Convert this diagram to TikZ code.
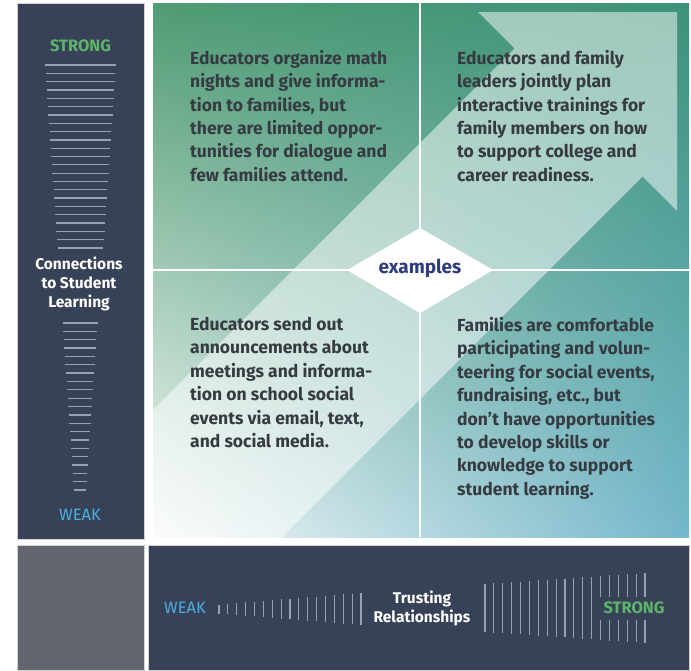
\documentclass[tikz,border=0pt]{standalone}
\usepackage{fontspec}
\usetikzlibrary{shadings}
\setmainfont{Fira Sans}
\definecolor{navy}{HTML}{374259}
\definecolor{slate}{HTML}{60656E}
\definecolor{barline}{HTML}{9A9FB3}
\definecolor{strongc}{HTML}{5DB56A}
\definecolor{weakc}{HTML}{4BAEDC}
\definecolor{exblue}{HTML}{2F3B80}
\definecolor{textgray}{HTML}{363B42}
\definecolor{greenTL}{HTML}{4F9B74}
\definecolor{greenTR}{HTML}{3D9279}
\definecolor{paleBL}{HTML}{F6F9F7}
\definecolor{blueBR}{HTML}{74B7CB}
\tikzset{
  panel/.style={draw=black!18, line width=0.8pt},
  quad/.style={anchor=north west, align=left, inner sep=0pt, text=textgray,
    font=\fontsize{17.5}{23.4}\selectfont\bfseries},
  tag/.style={inner sep=0pt, font=\fontsize{16.5}{19}\selectfont},
  head/.style={inner sep=0pt, align=center, text=white,
    font=\fontsize{15.5}{19}\selectfont\bfseries},
  bar/.style={barline, line width=1.3pt}
}
\begin{document}
\begin{tikzpicture}[x=1pt,y=-1pt]
\useasboundingbox (0,0) rectangle (691,670);
\def\mainarea{(153,3) rectangle (689,537)}

% panels
\fill[navy] (17,3) rectangle (144,539);
\draw[panel] (17,3) rectangle (144,539);
\shade[upper left=greenTL, upper right=greenTR, lower left=paleBL, lower right=blueBR] \mainarea;
\fill[slate] (17,545) rectangle (144,670);
\draw[panel] (17,545) rectangle (144,670);
\fill[navy] (148,545) rectangle (689,670);
\draw[panel] (148,545) rectangle (689,670);

% big arrow
\begin{scope}
\clip \mainarea;
\fill[white, fill opacity=0.5] (81.5,481.5) -- (514.5,48.5) -- (478,12) -- (677,12)
  -- (677,211) -- (642.5,176.5) -- (209.5,609.5) -- cycle;
\end{scope}

% quadrant lines and diamond
\draw[white, line width=1.5pt] (420,3) -- (420,537);
\draw[white, line width=1.5pt] (153,270) -- (689,270);
\fill[white] (347,270) -- (420,228) -- (493,270) -- (420,313) -- cycle;
\node[inner sep=0pt, text=exblue, font=\fontsize{19}{22}\selectfont\bfseries] (ex) at (420,268) {examples};

% examples
\node[quad] (tl) at (190,50) {Educators organize math\\nights and give informa-\\tion to families, but\\there are limited oppor-\\tunities for dialogue and\\few families attend.};
\node[quad] (tr) at (457,50) {Educators and family\\leaders jointly plan\\interactive trainings for\\family members on how\\to support college and\\career readiness.};
\node[quad] (bl) at (190,317) {Educators send out\\announcements about\\meetings and informa-\\tion on school social\\events via email, text,\\and social media.};
\node[quad] (br) at (457,317) {Families are comfortable\\participating and volun-\\teering for social events,\\fundraising, etc., but\\don't have opportunities\\to develop skills or\\knowledge to support\\student learning.};

% vertical scale
\node[tag, text=strongc, font=\fontsize{16.5}{19}\selectfont\bfseries] (strongL) at (80.5,46) {STRONG};
\foreach \k in {0,...,22}{
  \pgfmathsetmacro\yy{65+\k*8.32}
  \pgfmathsetmacro\hw{35.5-\k*0.57}
  \draw[bar] (80.5-\hw,\yy) -- (80.5+\hw,\yy);
}
\node[head] (connect) at (79,284) {Connections\\to Student\\Learning};
\foreach \k in {0,...,20}{
  \pgfmathsetmacro\yy{323+\k*8.35}
  \pgfmathsetmacro\hw{17.5-\k*0.575}
  \draw[bar] (80-\hw,\yy) -- (80+\hw,\yy);
}
\node[tag, text=weakc] (weakL) at (80,515) {WEAK};

% horizontal scale
\node[tag, text=weakc] (weakB) at (185,608) {WEAK};
\foreach \k in {0,...,16}{
  \pgfmathsetmacro\xx{219+\k*8.875}
  \pgfmathsetmacro\hh{4.5+\k*0.72}
  \draw[bar, line width=1.1pt] (\xx,609-\hh) -- (\xx,609+\hh);
}
\node[head] (trust) at (422,608) {Trusting\\Relationships};
\foreach \k in {0,...,18}{
  \pgfmathsetmacro\xx{485+\k*8.89}
  \pgfmathsetmacro\hh{24+\k*0.61}
  \ifnum\k<13
    \draw[bar, line width=1.1pt] (\xx,608-\hh) -- (\xx,608+\hh);
  \else
    \draw[bar, line width=1.1pt] (\xx,608-\hh) -- (\xx,597);
    \draw[bar, line width=1.1pt] (\xx,620) -- (\xx,608+\hh);
  \fi
}
\node[tag, text=strongc, font=\fontsize{16.5}{19}\selectfont\bfseries] (strongB) at (634,608) {STRONG};
\end{tikzpicture}
\end{document}
